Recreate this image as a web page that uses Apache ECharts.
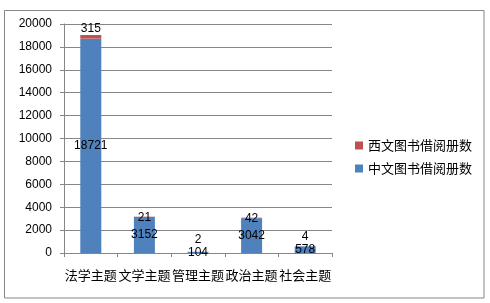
<!DOCTYPE html>
<html>
<head>
<meta charset="utf-8">
<script src="https://cdn.jsdelivr.net/npm/echarts@6/dist/echarts.min.js"></script>
<style>
  html, body { margin: 0; padding: 0; background: #ffffff; }
  #chart { width: 490px; height: 303px; }
</style>
</head>
<body>
<div id="chart"></div>
<script>
// Borrowing counts per subject, Chinese and Western books stacked
const categories = ['法学主题', '文学主题', '管理主题', '政治主题', '社会主题'];
const chineseBooks = [18721, 3152, 104, 3042, 578];
const westernBooks = [315, 21, 2, 42, 4];
const seriesNames = ['中文图书借阅册数', '西文图书借阅册数'];
const yTicks = { min: 0, max: 20000, interval: 2000 };

// label nudges for the thin top segments so they stay readable
const westernLabelOffsets = [[0, -8], [0, 1], [0, -12], [0, 1], [0, -10]];

const numberFont = { fontFamily: 'Liberation Sans, Arial, sans-serif', fontSize: 12, color: '#000' };
const cjkFont = 'Noto Sans CJK SC, sans-serif';
const axisGray = '#868686';

const chart = echarts.init(document.getElementById('chart'));
chart.setOption({
  animation: false,
  backgroundColor: '#ffffff',
  graphic: [{
    type: 'rect',
    shape: { x: 4.5, y: 10.5, width: 479.5, height: 287.5 },
    style: { fill: 'none', stroke: axisGray, lineWidth: 1 }
  }],
  grid: { left: 64, right: 158, top: 24, bottom: 50 },
  legend: {
    orient: 'vertical',
    left: 350,
    top: 134,
    itemWidth: 8,
    itemHeight: 8,
    itemGap: 10,
    icon: 'rect',
    data: [seriesNames[1], seriesNames[0]],
    textStyle: { fontFamily: cjkFont, fontSize: 13, color: '#000' }
  },
  xAxis: {
    type: 'category',
    data: categories,
    axisLine: { lineStyle: { color: axisGray } },
    axisTick: { show: true, length: 4, lineStyle: { color: axisGray } },
    axisLabel: { fontFamily: cjkFont, fontSize: 13, color: '#000', margin: 16, interval: 0 }
  },
  yAxis: {
    type: 'value',
    min: yTicks.min,
    max: yTicks.max,
    interval: yTicks.interval,
    axisLine: { show: true, lineStyle: { color: axisGray } },
    axisTick: { show: true, length: 4, lineStyle: { color: axisGray } },
    splitLine: { lineStyle: { color: axisGray } },
    axisLabel: Object.assign({ margin: 12, formatter: v => String(v) }, numberFont)
  },
  series: [
    {
      name: seriesNames[0],
      type: 'bar',
      stack: 'total',
      barWidth: 21,
      itemStyle: { color: '#4F81BD' },
      label: Object.assign({ show: true, position: 'inside' }, numberFont),
      data: chineseBooks
    },
    {
      name: seriesNames[1],
      type: 'bar',
      stack: 'total',
      barWidth: 21,
      itemStyle: { color: '#C0504D' },
      data: westernBooks.map((v, i) => ({
        value: v,
        label: Object.assign({ show: true, position: 'inside', offset: westernLabelOffsets[i] }, numberFont)
      }))
    }
  ]
});
</script>
</body>
</html>
